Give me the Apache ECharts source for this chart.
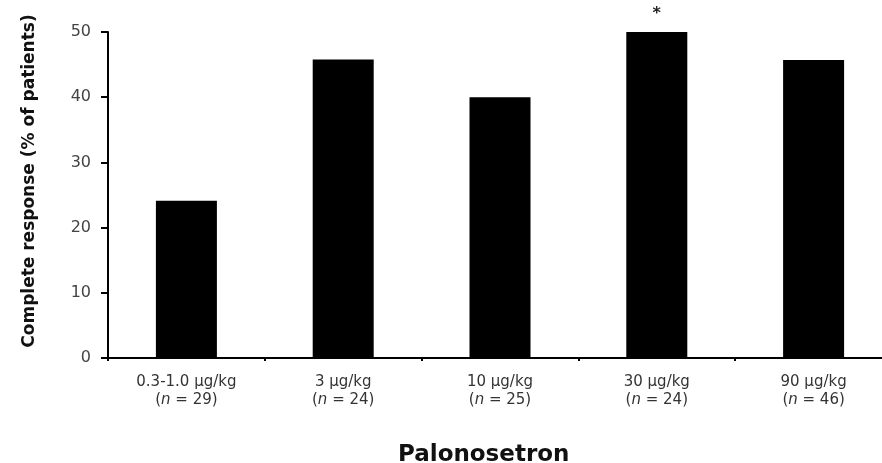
<!DOCTYPE html>
<html>
<head>
<meta charset="utf-8">
<script src="https://cdn.jsdelivr.net/npm/echarts@6/dist/echarts.min.js"></script>
<style>
  html, body { margin: 0; padding: 0; background: #fff; }
  #chart { width: 882px; height: 463px; }
</style>
</head>
<body>
<div id="chart"></div>
<script>
// doses and group sizes on the x axis
const doses = ['0.3-1.0 μg/kg', '3 μg/kg', '10 μg/kg', '30 μg/kg', '90 μg/kg']
const groupN = [29, 24, 25, 24, 46]
// complete response, % of patients
const response = [24.1, 45.8, 40, 50, 45.7]
// significance marks over bars
const marks = ['', '', '', '*', '']
const yTicks = { min: 0, max: 50, interval: 10 }

const font = '"DejaVu Sans", "Liberation Sans", Arial, sans-serif'

const chart = echarts.init(document.getElementById('chart'))

chart.setOption({
  animation: false,
  textStyle: { fontFamily: font },
  title: {
    text: 'Palonosetron',
    left: 398,
    top: 444,
    padding: 0,
    textStyle: { fontFamily: font, fontSize: 23, fontWeight: 'bold', color: '#111' }
  },
  grid: {
    left: 108,
    top: 32,
    width: 784,
    height: 326,
    containLabel: false,
    outerBoundsMode: 'none'
  },
  xAxis: {
    type: 'category',
    data: doses,
    axisLine: { lineStyle: { color: '#000', width: 2 } },
    axisTick: { show: true, length: 3, lineStyle: { color: '#000', width: 2 } },
    axisLabel: {
      margin: 15,
      interval: 0,
      color: '#333',
      fontSize: 15,
      lineHeight: 18,
      formatter: (val, i) => val + '\n{p|(}{n|n}{p| = ' + groupN[i] + ')}',
      rich: {
        p: { fontSize: 15, color: '#333', fontFamily: font, lineHeight: 18 },
        n: { fontSize: 15, color: '#333', fontStyle: 'italic', fontFamily: font, lineHeight: 18 }
      }
    }
  },
  yAxis: {
    type: 'value',
    min: yTicks.min,
    max: yTicks.max,
    interval: yTicks.interval,
    name: 'Complete response (% of patients)',
    nameLocation: 'middle',
    nameGap: 70,
    nameTextStyle: {
      fontFamily: font,
      fontSize: 17,
      fontWeight: 'bold',
      color: '#111',
      padding: [0, 0, 0, 28]
    },
    axisLine: { show: true, lineStyle: { color: '#000', width: 2 } },
    axisTick: { show: true, length: 7, lineStyle: { color: '#000', width: 2 } },
    axisLabel: { color: '#444', fontSize: 16, margin: 17 },
    splitLine: { show: false }
  },
  series: [
    {
      type: 'bar',
      barWidth: 61,
      itemStyle: { color: '#000' },
      data: response.map((v, i) => ({
        value: v,
        label: {
          show: marks[i] !== '',
          formatter: marks[i],
          position: 'top',
          distance: 10,
          fontSize: 16,
          fontWeight: 'bold',
          color: '#222'
        }
      }))
    }
  ]
})
</script>
</body>
</html>
